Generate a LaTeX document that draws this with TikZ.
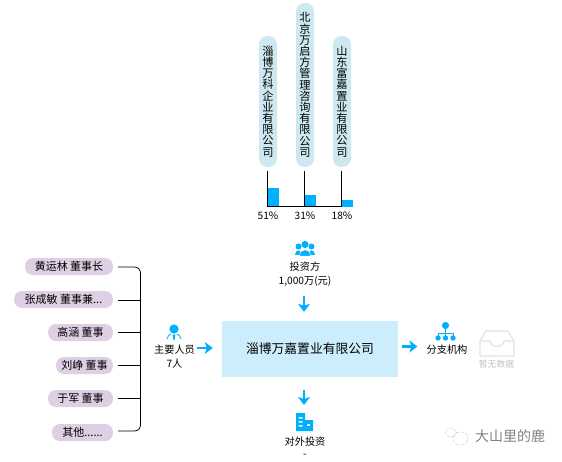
\documentclass[tikz,border=0pt]{standalone}
\usepackage{fontspec}
\setmainfont{Noto Sans CJK SC}
\usetikzlibrary{arrows.meta}
\definecolor{flowblue}{HTML}{00B0FF}
\definecolor{firmblue}{HTML}{CCEEFC}
\definecolor{holderblue}{HTML}{CDE8F0}
\definecolor{staffpurple}{HTML}{DFCFE4}
\definecolor{emptygray}{HTML}{E2E2E2}
\tikzset{
  treenode/.style = {align=center, inner sep=0pt, text centered,
    font=\fontsize{10.2}{14}\selectfont},
  holder_node/.style = {treenode, fill=holderblue, rounded corners=8.5pt,
    minimum width=18pt, font=\fontsize{11.2}{11.2}\selectfont},
  staff_node/.style = {treenode, fill=staffpurple, rounded corners=8pt,
    minimum height=17pt, font=\fontsize{11}{12}\selectfont},
  firm_node/.style = {treenode, fill=firmblue, minimum width=176pt,
    minimum height=56pt, font=\fontsize{12.8}{14}\selectfont},
  tree_line/.style = {black, line width=0.8pt},
  flow_arrow/.style = {flowblue, line width=2.2pt, -{Stealth[length=8pt,width=12pt,inset=2pt]}},
  share_bar/.style = {fill=flowblue, draw=none},
  icon_fill/.style = {fill=flowblue, draw=none}
}

\begin{document}
\begin{tikzpicture}[x=1pt, y=-1pt]
    \useasboundingbox (0,0) rectangle (562,461);

    % shareholders
    \node [holder_node, minimum height=131pt] (holder1) at (268,101.5)
      {淄\\博\\万\\科\\企\\业\\有\\限\\公\\司};
    \node [holder_node, minimum height=164pt] (holder2) at (305,85)
      {北\\京\\万\\启\\方\\管\\理\\咨\\询\\有\\限\\公\\司};
    \node [holder_node, minimum height=131pt] (holder3) at (342,101.5)
      {山\\东\\富\\嘉\\置\\业\\有\\限\\公\\司};

    \fill [share_bar] (267,188) rectangle (279,207);
    \fill [share_bar] (304,195) rectangle (316,207);
    \fill [share_bar] (341,200) rectangle (353,207);

    \coordinate (foot1) at (267,206.5);
    \coordinate (foot2) at (304,206.5);
    \coordinate (foot3) at (341,206.5);
    \draw [tree_line] (267,171) -- (foot1);
    \draw [tree_line] (304,171) -- (foot2);
    \draw [tree_line] (341,171) -- (foot3);
    \draw [tree_line] (foot1) -- (foot3);

    \node [treenode] (share1) at (268,215.5) {51\%};
    \node [treenode] (share2) at (305,215.5) {31\%};
    \node [treenode] (share3) at (342,215.5) {18\%};

    % centre
    \node [firm_node] (firm) at (310,349) {\raisebox{-1pt}{淄博万嘉置业有限公司}};

    % investor
    \fill [icon_fill] (305,244.5) circle (3.6);
    \fill [icon_fill] (298.5,246.5) circle (3);
    \fill [icon_fill] (311.5,246.5) circle (3);
    \fill [icon_fill] (295,255) .. controls (295,249) and (302,249) .. (302,255) -- cycle;
    \fill [icon_fill] (308,255) .. controls (308,249) and (315,249) .. (315,255) -- cycle;
    \fill [icon_fill, draw=white, line width=0.5pt] (299.5,256) .. controls (299.5,247.5) and (310.5,247.5) .. (310.5,256) -- cycle;
    \node [treenode] (investor) at (305,274) {投资方\\1,000万(元)};
    \coordinate (invest_in) at (304,287);
    \draw [flow_arrow, shorten <=9pt, shorten >=9pt] (invest_in) -- (invest_in |- firm.north);

    % people
    \node [staff_node, minimum width=88pt] (staff1) at (69,266.5) {黄运林 董事长};
    \node [staff_node, minimum width=99pt] (staff2) at (63.5,299.5) {张成敏 董事兼...};
    \node [staff_node, minimum width=65pt] (staff3) at (80.5,332.5) {高涵 董事};
    \node [staff_node, minimum width=57pt] (staff4) at (84.5,365.5) {刘峥 董事};
    \node [staff_node, minimum width=65pt] (staff5) at (80.5,398.5) {于军 董事};
    \node [staff_node, minimum width=61pt] (staff6) at (82.5,432.5) {其他......};

    \coordinate (brace_top) at (140.5,267);
    \coordinate (brace_bottom) at (140.5,431);
    \draw [tree_line, rounded corners=6pt] ([xshift=5pt]staff1.east |- brace_top) -- (brace_top) -- (brace_bottom) -- ([xshift=5pt]staff6.east |- brace_bottom);
    \foreach \i/\ypos in {2/300, 3/332, 4/365, 5/398} {
      \coordinate (stub\i) at (140.5,\ypos);
      \draw [tree_line] ([xshift=5pt]staff\i.east |- stub\i) -- (stub\i);
    }

    \fill [icon_fill] (174,329) circle (4.6);
    \draw [flowblue, line width=0.9pt] (167,339) .. controls (167.5,336) and (169,335) .. (171,334);
    \draw [flowblue, line width=0.9pt] (181,339) .. controls (180.5,336) and (179,335) .. (177,334);
    \fill [icon_fill] (172.5,334.5) -- (175.5,334.5) -- (174.5,340) -- (173.5,340) -- cycle;
    \node [treenode] (people) at (174.5,356.5) {主要人员\\7人};
    \coordinate (people_out) at (people.east |- 0,348);
    \draw [flow_arrow, shorten <=2pt, shorten >=9pt] (people_out) -- (people_out -| firm.west);

    % outward investment
    \fill [icon_fill, even odd rule] (296,413) -- (305,413) -- (305,420) -- (313,420) -- (313,431) -- (296,431) -- cycle
      (298.5,417) rectangle (302.5,418.5) (298.5,421) rectangle (302.5,422.5) (298.5,425) rectangle (302.5,426.5)
      (307,424) rectangle (310,426);
    \node [treenode] (foreign) at (305,441.5) {对外投资};
    \node [treenode] (foreign_none) at (305,456) {-};
    \coordinate (foreign_top) at (304,413);
    \draw [flow_arrow, shorten <=13pt, shorten >=8pt] (firm.south -| foreign_top) -- (foreign_top);

    % branches
    \fill [icon_fill] (445.5,325.5) circle (3.6);
    \draw [flowblue, line width=0.8pt] (445.5,329) -- (445.5,336) (438,336) -- (438,333) -- (453,333) -- (453,336);
    \fill [icon_fill] (438,338) circle (2.7);
    \fill [icon_fill] (445.5,338) circle (2.7);
    \fill [icon_fill] (453,338) circle (2.7);
    \node [treenode] (branch) at (447,349.5) {分支机构};
    \coordinate (branch_in) at (branch.west |- 0,346.5);
    \draw [flow_arrow, shorten <=4pt, shorten >=9pt] (firm.east |- branch_in) -- (branch_in);

    % empty state
    \draw [emptygray, line width=1.2pt, line join=round] (480,341) -- (486,331) -- (508,331) -- (514,341) -- (514,356) -- (480,356) -- cycle;
    \draw [emptygray, line width=1.2pt] (480,341) -- (490,341) .. controls (491,348) and (503,348) .. (504,341) -- (514,341);
    \node [treenode, text=emptygray!85!black, font=\fontsize{8.8}{10}\selectfont] (empty) at (496.5,364.5) {暂无数据};

    % watermark
    \draw [gray!60, line width=0.5pt, densely dotted] (451,432.5) ellipse (5.5 and 4.5);
    \draw [gray!70, line width=0.5pt, densely dotted] (460.5,438.5) ellipse (7.5 and 6.5);
    \node [treenode, text=gray, font=\fontsize{14}{16}\selectfont] (mark) at (510,436.5) {大山里的鹿};
\end{tikzpicture}
\end{document}
